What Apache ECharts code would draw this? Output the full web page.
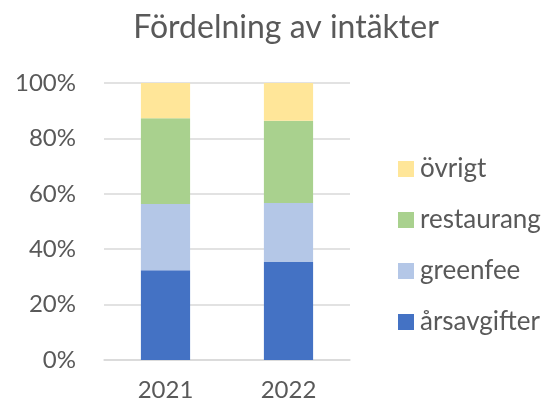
<!DOCTYPE html>
<html>
<head>
<meta charset="utf-8">
<script src="https://cdn.jsdelivr.net/npm/echarts@6/dist/echarts.min.js"></script>
<style>
  html, body { margin: 0; padding: 0; background: #fff; }
  #main { width: 548px; height: 407px; }
</style>
</head>
<body>
<div id="main"></div>
<script>
// kategorier och andelar (procent av totala intäkter)
var years = ['2021', '2022']
var arsavgifter = [32.4, 35.4]
var greenfee = [23.9, 21.3]
var restaurang = [31.0, 29.7]
var ovrigt = [12.7, 13.6]

var seriesNames = ['årsavgifter', 'greenfee', 'restaurang', 'övrigt']
var seriesColors = ['#4472C4', '#B4C7E7', '#A9D18E', '#FFE699']
var seriesData = [arsavgifter, greenfee, restaurang, ovrigt]

var font = 'Lato'
var textColor = '#595959'

var chart = echarts.init(document.getElementById('main'))

var option = {
  animation: false,
  title: {
    text: 'Fördelning av intäkter',
    left: 281,
    top: 7,
    textAlign: 'center',
    textStyle: {
      fontFamily: font,
      fontSize: 32,
      fontWeight: 'normal',
      color: textColor
    }
  },
  legend: {
    orient: 'vertical',
    left: 393,
    top: 151,
    itemWidth: 16,
    itemHeight: 16,
    itemGap: 25,
    icon: 'rect',
    data: seriesNames.slice().reverse(),
    textStyle: {
      fontFamily: font,
      fontSize: 26,
      color: textColor,
      padding: [0, 0, 0, 1]
    }
  },
  grid: {
    left: 104,
    right: 198,
    top: 83,
    bottom: 47,
    containLabel: false
  },
  xAxis: {
    type: 'category',
    data: years,
    axisLine: { show: true, lineStyle: { color: '#D9D9D9', width: 1.5 } },
    axisTick: { show: false },
    axisLabel: {
      fontFamily: font,
      fontSize: 24,
      color: textColor,
      margin: 18
    }
  },
  yAxis: {
    type: 'value',
    min: 0,
    max: 100,
    interval: 20,
    axisLine: { show: false },
    axisTick: { show: false },
    splitLine: { lineStyle: { color: '#D9D9D9', width: 1.5 } },
    axisLabel: {
      formatter: '{value}%',
      fontFamily: font,
      fontSize: 24,
      color: textColor,
      margin: 28
    }
  },
  series: seriesNames.map(function (name, i) {
    return {
      name: name,
      type: 'bar',
      stack: 'total',
      barWidth: '40%',
      data: seriesData[i],
      itemStyle: { color: seriesColors[i] }
    }
  })
}

chart.setOption(option)
</script>
</body>
</html>
